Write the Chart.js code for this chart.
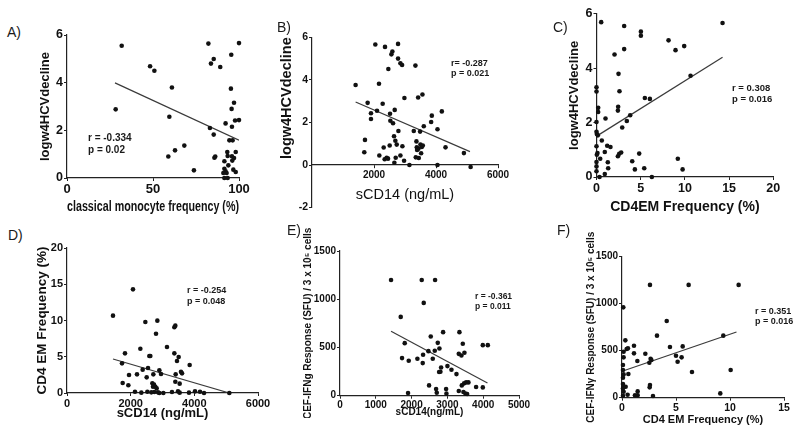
<!DOCTYPE html>
<html>
<head>
<meta charset="utf-8">
<script src="https://cdn.jsdelivr.net/npm/chart.js@4.4.1/dist/chart.umd.min.js"></script>
<style>
  body { margin: 0; background: #fff; }
  #fig { position: relative; width: 800px; height: 434px; overflow: hidden;
         font-family: "Liberation Sans", Arial, sans-serif; color: #1a1a1a; }
  #fig canvas { position: absolute; }
  .lbl { position: absolute; z-index: 2; font-size: 14px; line-height: 16px; }
  .stat { position: absolute; z-index: 2; font-weight: bold; white-space: nowrap; }
</style>
</head>
<body>
<div id="fig">
  <div class="lbl" style="left:7px;top:24px">A)</div>
  <div class="lbl" style="left:277px;top:19px">B)</div>
  <div class="lbl" style="left:553px;top:19px">C)</div>
  <div class="lbl" style="left:8px;top:227px">D)</div>
  <div class="lbl" style="left:287px;top:222px">E)</div>
  <div class="lbl" style="left:557px;top:222px">F)</div>

  <div class="stat" style="left:88px;top:132px;font-size:10px;line-height:11.7px">r = -0.334<br>p = 0.02</div>
  <div class="stat" style="left:451px;top:58px;font-size:9px;line-height:10px">r= -0.287<br>p = 0.021</div>
  <div class="stat" style="left:732px;top:83px;font-size:9.5px;line-height:10.7px">r = 0.308<br>p = 0.016</div>
  <div class="stat" style="left:187px;top:285px;font-size:9px;line-height:10.7px">r = -0.254<br>p = 0.048</div>
  <div class="stat" style="left:475px;top:291px;font-size:8.5px;line-height:10px">r = -0.361<br>p = 0.011</div>
  <div class="stat" style="left:755px;top:306px;font-size:9px;line-height:10px">r = 0.351<br>p = 0.016</div>
</div>
<script>
// A) classical monocyte frequency vs logw4HCVdecline
var monoFreqA = [31.8, 28.3, 48.3, 50.8, 61.0, 59.5, 58.9, 62.8, 68.2, 73.8, 82.2, 85.3, 83.7, 89.1, 95.5,
  100, 95.3, 97.1, 95.7, 97.7, 100, 92.2, 95.9, 83.1, 85.3, 94.4, 96.3, 86.2, 85.7, 93.2,
  98.1, 93.4, 95.9, 97.1, 96.1, 91.5, 93.8, 91.5, 92.2, 92.8, 90.9, 96.7, 98.1, 91.5, 93.4];
var hcvDecA = [5.55, 2.88, 4.69, 4.50, 3.80, 2.57, 0.90, 1.16, 1.36, 0.32, 5.64, 4.99, 4.80, 4.66, 5.17,
  5.66, 3.75, 3.16, 2.90, 2.41, 2.43, 2.29, 2.15, 2.10, 1.82, 1.58, 1.58, 0.90, 0.85, 1.09,
  1.09, 0.92, 0.91, 0.84, 0.73, 0.70, 0.53, 0.39, 0.28, 0.21, 0.21, 0.35, 0.25, 0, 0];
var fitAx = [27.9, 100], fitAy = [3.99, 1.59];
var ticksAx = [0, 50, 100], ticksAy = [0, 2, 4, 6];

// B) sCD14 vs logw4HCVdecline
var sCD14B = [1407, 2043, 2355, 2776, 2593, 2561, 2776, 2852, 2906, 2463, 3336, 2161, 2981, 3423, 3563,
  1795, 2280, 2097, 1903, 1903, 2517, 2668, 2528, 2614, 2787, 3283, 3487, 3606, 3865, 3843,
  4188, 4048, 1709, 1687, 2646, 2689, 2733, 2916, 2506, 2312, 3369, 3498, 3380, 3434, 3541,
  3574, 3391, 3520, 4307, 4900, 2172, 2344, 2409, 2452, 2700, 2852, 2657, 2970, 3143, 3348,
  3445, 4048, 5117];
var hcvDecB = [3.76, 5.66, 5.55, 5.69, 5.33, 5.20, 5.00, 4.78, 4.70, 4.51, 4.67, 3.82, 3.15, 3.17, 3.31,
  2.92, 2.88, 2.55, 2.43, 2.16, 2.41, 2.59, 2.08, 1.96, 1.60, 1.60, 1.57, 1.82, 2.32, 2.02,
  2.52, 1.68, 1.18, 0.60, 1.35, 1.14, 0.96, 0.88, 0.92, 0.82, 1.11, 0.96, 0.83, 0.77, 0.85,
  0.92, 0.71, 0.55, 0.83, 0.56, 0.45, 0.27, 0.34, 0.30, 0.34, 0.45, 0.11, 0.20, 0, 0.36,
  0.33, 0, -0.09];
var fitBx = [1407, 5096], fitBy = [2.96, 0.63];
var ticksBx = [2000, 4000, 6000], ticksBy = [-2, 0, 2, 4, 6];

// C) CD4EM frequency vs logw4HCVdecline
var cd4emC = [0.53, 3.13, 5.02, 5.02, 8.15, 8.94, 9.92, 14.26, 2.04, 3.13, 10.64, 2.49, 0, 0, 2.60,
  5.47, 6.04, 0.19, 0.19, 2.45, 2.42, 1.02, 3.81, 3.43, 2.91, 0, 0, 0.04, 0.15, 0.6,
  1.21, 1.58, 0, 0.11, 0.04, 0.94, 2.42, 2.57, 2.79, 4.83, 0.42, 0, 1.28, 0, 4.04,
  1.32, 0.94, 0, 4.34, 5.40, 6.26, 9.2, 9.74, 0.34];
var hcvDecC = [5.69, 5.55, 5.34, 5.19, 5.02, 4.66, 4.81, 5.66, 4.50, 4.70, 3.72, 3.79, 3.30, 3.14, 3.15,
  2.90, 2.87, 2.54, 2.39, 2.58, 2.44, 2.15, 2.27, 2.06, 1.82, 2.02, 1.66, 1.58, 1.53, 1.34,
  1.15, 1.10, 1.13, 0.88, 0.82, 0.92, 0.76, 0.85, 0.90, 0.86, 0.67, 0.55, 0.54, 0.39, 0.58,
  0.32, 0.11, 0.21, 0.28, 0.32, 0, 0.67, 0.28, 0];
var fitCx = [0.11, 14.26], fitCy = [1.52, 4.40];
var ticksCx = [0, 5, 10, 15, 20], ticksCy = [0, 2, 4, 6];

// D) sCD14 vs CD4 EM frequency
var sCD14D = [1445, 2073, 2461, 2838, 2796, 3372, 3403, 2304, 3141, 1822, 2586, 2618, 3372, 3508, 3455,
  1728, 3853, 2545, 2377, 2901, 3581, 3613, 2953, 3414, 1948, 2199, 2712, 2503, 1749, 1927,
  2681, 2733, 2702, 2775, 2817, 3403, 3539, 2136, 2335, 2524, 2743, 2859, 3026, 3298, 3487,
  3539, 3832, 4021, 4178, 4304, 5099, 2901, 2649];
var cd4emD = [10.67, 14.30, 9.79, 9.98, 8.18, 9.06, 9.29, 6.11, 6.34, 5.47, 5.10, 5.10, 5.47, 4.97, 4.41,
  4.09, 3.86, 3.45, 3.22, 3.13, 2.94, 2.71, 2.62, 2.57, 2.48, 2.57, 2.57, 2.16, 1.38, 1.06,
  1.33, 1.15, 0.87, 0.87, 0.64, 1.56, 1.29, 0.18, 0.05, 0.18, 0.14, 0.09, 0, 0.14, 0.23,
  0.05, 0.05, 0.23, 0.18, 0, 0, 0, 0.09];
var fitDx = [1445, 5099], fitDy = [4.69, 0];
var ticksDx = [0, 2000, 4000, 6000], ticksDy = [0, 5, 10, 15, 20];

// E) sCD14 vs CEF-IFNg response
var sCD14E = [1426, 2283, 2656, 2339, 1696, 2535, 2880, 3336, 1808, 2731, 3430, 3989, 4129, 2777, 2647,
  2470, 2321, 3318, 3392, 3476, 1733, 1920, 2162, 2311, 2591, 2824, 2805, 2768, 3001, 3113,
  3253, 2488, 3402, 3467, 3523, 3588, 3802, 3989, 2684, 2703, 2964, 2973, 1901, 3318, 3448,
  3504, 3551];
var ifngE = [1200, 1200, 1200, 962, 817, 614, 659, 659, 545, 548, 538, 524, 524, 490, 466,
  462, 424, 434, 417, 445, 390, 362, 383, 338, 383, 293, 248, 245, 307, 269,
  224, 107, 107, 128, 138, 138, 90, 86, 69, 31, 69, 21, 28, 48, 38,
  21, 17];
var fitEx = [1426, 4119], fitEy = [669, 131];
var ticksEx = [0, 1000, 2000, 3000, 4000, 5000], ticksEy = [0, 500, 1000, 1500];

// F) CD4 EM frequency vs CEF-IFNy response
var cd4emF = [2.59, 6.17, 10.8, 0.12, 4.14, 3.24, 9.38, 0.31, 0.43, 0.55, 1.11, 4.44, 5.62, 0.15, 0.15,
  1.11, 2.16, 1.42, 5.0, 5.52, 5.15, 2.65, 2.72, 2.53, 6.48, 10.06, 0.09, 0.09, 0.15, 0.59,
  0.09, 0.09, 0.15, 0.34, 0.09, 0.15, 0.09, 0.52, 1.2, 1.45, 1.45, 2.59, 2.56, 2.87, 9.10];
var ifngF = [1200, 1200, 1200, 961, 816, 660, 660, 610, 518, 525, 553, 539, 546, 489, 429,
  472, 468, 390, 447, 429, 383, 415, 401, 372, 273, 294, 348, 294, 248, 252,
  213, 145, 117, 117, 99, 64, 21, 32, 25, 67, 25, 135, 110, 18, 46];
var fitFx = [0.15, 10.6], fitFy = [287, 699];
var ticksFx = [0, 5, 10, 15], ticksFy = [0, 500, 1000, 1500];

var fig = document.getElementById('fig');
Chart.defaults.font.family = '"Liberation Sans", Arial, sans-serif';
Chart.defaults.color = '#1a1a1a';

function pts(xs, ys) {
  return xs.map(function (x, i) { return {x: x, y: ys[i]}; });
}

function axis(range, ticks, tickSize, title, tfont, tpad, fixSize, horiz) {
  return {
    type: 'linear', min: range[0], max: range[1],
    afterBuildTicks: function (s) { s.ticks = ticks.map(function (v) { return {value: v}; }); },
    afterFit: function (s) { if (horiz) s.height = fixSize; else s.width = fixSize; },
    border: {color: '#222', width: 1.2},
    grid: {drawOnChartArea: false, tickLength: 3, tickColor: '#222', tickWidth: 1},
    ticks: {font: {size: tickSize, weight: 'bold'}, padding: 1, maxRotation: 0, autoSkip: false,
            color: '#111', callback: function (v) { return String(v); }},
    title: {display: true, text: title, font: tfont, padding: tpad, color: '#111'}
  };
}

// area = plot box [left, top, right, bottom] in page pixels
function makePanel(p) {
  var L = p.area[0], T = p.area[1], R = p.area[2], B = p.area[3];
  var ylh = p.yFont.size * 1.2, xlh = p.xFont.size * 1.2;
  var cl = Math.floor(p.yTitleX - ylh / 2);
  var ct = Math.floor(T - (p.padT || 10));
  var cr = Math.ceil(R + 14);
  var cb, xh, xPad, padB;
  if (p.xAtZero) {
    var zero = T + p.yRange[1] / (p.yRange[1] - p.yRange[0]) * (B - T);
    cb = Math.ceil(B + 8);
    padB = cb - B;
    xh = p.xTitleY - zero + xlh / 2;
    xPad = 0;
  } else {
    cb = Math.ceil(p.xTitleY + xlh / 2 + (p.extraB || 0));
    padB = 0;
    xh = cb - B;
    xPad = cb - xlh / 2 - p.xTitleY;
  }

  var cv = document.createElement('canvas');
  cv.width = cr - cl;
  cv.height = cb - ct;
  cv.style.left = cl + 'px';
  cv.style.top = ct + 'px';
  fig.appendChild(cv);

  var x = axis(p.xRange, p.xTicks, p.xTickSize, p.xTitle, p.xFont, {top: 0, bottom: xPad}, xh, true);
  if (p.xAtZero) x.position = {y: 0};
  var y = axis(p.yRange, p.yTicks, p.yTickSize, p.yTitle, p.yFont,
               {top: p.yTitleX - ylh / 2 - cl, bottom: 0}, L - cl, false);
  y.title.align = p.yAlign || 'center';

  new Chart(cv, {
    type: 'scatter',
    data: {
      datasets: [
        {data: pts(p.xs, p.ys), pointRadius: 2.3, pointHoverRadius: 2.3,
         backgroundColor: '#111', borderWidth: 0, clip: false},
        {type: 'line', data: pts(p.fitX, p.fitY), borderColor: '#3a3a3a', borderWidth: 1.2,
         pointRadius: 0, fill: false}
      ]
    },
    options: {
      responsive: false, animation: false, events: [],
      layout: {padding: {left: 0, top: T - ct, right: cr - R, bottom: padB}},
      plugins: {legend: {display: false}, tooltip: {enabled: false}},
      scales: {x: x, y: y}
    }
  });
}

var bold = function (s) { return {size: s, weight: 'bold'}; };

makePanel({area: [67, 35, 239, 178], xs: monoFreqA, ys: hcvDecA, fitX: fitAx, fitY: fitAy,
  xRange: [0, 100], xTicks: ticksAx, yRange: [0, 6], yTicks: ticksAy, xTickSize: 13, yTickSize: 12.5,
  yTitle: 'logw4HCVdecline', yFont: bold(13), yTitleX: 45,
  xTitle: 'classical monocyte frequency (%)', xFont: bold(14.5), xTitleY: 207});

makePanel({area: [312, 37.3, 498, 207.6], xs: sCD14B, ys: hcvDecB, fitX: fitBx, fitY: fitBy,
  xRange: [0, 6000], xTicks: ticksBx, yRange: [-2, 6], yTicks: ticksBy, xTickSize: 10, yTickSize: 10.5,
  yTitle: 'logw4HCVdecline', yFont: bold(14.5), yTitleX: 287, yAlign: 'end',
  xTitle: 'sCD14 (ng/mL)', xFont: {size: 14.5, weight: 'normal'}, xTitleY: 195, xAtZero: true});

makePanel({area: [596.5, 13.7, 773.3, 177], xs: cd4emC, ys: hcvDecC, fitX: fitCx, fitY: fitCy,
  xRange: [0, 20], xTicks: ticksCx, yRange: [0, 6], yTicks: ticksCy, xTickSize: 12.5, yTickSize: 12.5,
  yTitle: 'logw4HCVdecline', yFont: bold(13), yTitleX: 574.5,
  xTitle: 'CD4EM Frequency (%)', xFont: bold(14), xTitleY: 207});

makePanel({area: [67, 248, 258, 393], xs: sCD14D, ys: cd4emD, fitX: fitDx, fitY: fitDy,
  xRange: [0, 6000], xTicks: ticksDx, yRange: [0, 20], yTicks: ticksDy, xTickSize: 11, yTickSize: 11,
  yTitle: 'CD4 EM Frequency (%)', yFont: bold(13.5), yTitleX: 42.5,
  xTitle: 'sCD14 (ng/mL)', xFont: bold(13), xTitleY: 413});

makePanel({area: [340, 251, 519, 395.7], xs: sCD14E, ys: ifngE, fitX: fitEx, fitY: fitEy,
  xRange: [0, 5000], xTicks: ticksEx, yRange: [0, 1500], yTicks: ticksEy, xTickSize: 10, yTickSize: 10,
  yTitle: 'CEF-IFNg Response (SFU) / 3 x 10\u2075 cells', yFont: bold(10), yTitleX: 308, padT: 30,
  xTitle: 'sCD14(ng/mL)', xFont: bold(10), xTitleY: 412});

makePanel({area: [622, 256.7, 784, 397.7], xs: cd4emF, ys: ifngF, fitX: fitFx, fitY: fitFy,
  xRange: [0, 15], xTicks: ticksFx, yRange: [0, 1500], yTicks: ticksFy, xTickSize: 10.5, yTickSize: 10,
  yTitle: 'CEF-IFN\u03b3 Response (SFU) / 3 x 10\u2075 cells', yFont: bold(10), yTitleX: 591, padT: 35,
  xTitle: 'CD4 EM Frequency (%)', xFont: bold(11), xTitleY: 420, extraB: 3});
</script>
</body>
</html>
